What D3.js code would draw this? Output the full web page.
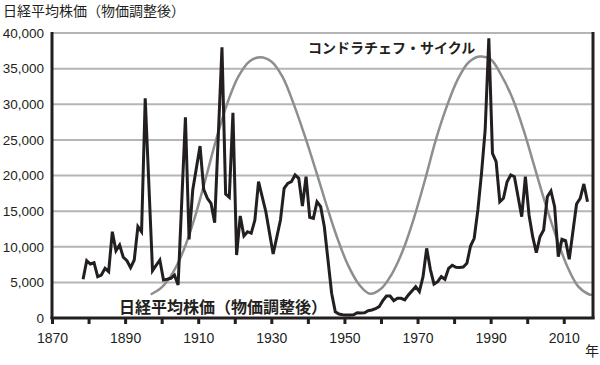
<!DOCTYPE html>
<html><head><meta charset="utf-8">
<script src="https://cdn.jsdelivr.net/npm/d3@7"></script>
<style>
html,body{margin:0;padding:0;background:#fff;}
text{font-family:"Liberation Sans",Arial,sans-serif;fill:#231f20;}
.jp{font-family:"Noto Sans CJK JP","Noto Sans",sans-serif;}
</style></head>
<body>
<svg id="chart" width="600" height="365"></svg>
<script>
// ---- data ----
const nikkeiYears = [1878,1879,1880,1881,1882,1883,1884,1885,1886,1887,1888,1889,1890,1891,1892,1893,1894,1895,1897,1899,
  1900,1901,1902,1903,1904,1906,1907,1908,1910,1911,1912,1913,1914,1916,1917,1918,1919,1920,1921,1922,1923,1924,1925,1926,1928,
  1930,1932,1933,1934,1935,1936,1937,1938,1939,1940,1941,1942,1943,1944,1946,1947,1948,1949,1950,1951,1952,1953,1954,1955,1956,
  1957,1958,1959,1960,1961,1962,1963,1964,1965,1966,1967,1969,1970,1971,1972,1973,1974,1975,1976,1977,1978,1979,1980,1981,1982,
  1983,1984,1985,1986,1987,1988,1989,1990,1991,1992,1993,1994,1995,1996,1997,1998,1999,2000,2001,2002,2003,2004,2005,2006,2007,
  2008,2009,2010,2011,2013,2014,2015,2016];
const nikkeiValues = [5430,8040,7580,7760,5800,6030,6970,6500,12110,9450,10250,8520,8040,7060,8140,12820,12110,30830,6640,8140,
  5330,5430,5570,6030,4630,28170,11040,17960,24140,18060,16800,16100,13380,37990,17400,16940,28810,8840,14320,11510,12110,11890,13750,19130,14920,
  8980,13750,18200,18900,19130,20070,19600,15720,19830,14130,13990,16320,15620,12810,3470,880,560,450,420,420,450,740,700,740,1020,
  1120,1300,1590,2430,3090,3090,2430,2760,2760,2530,3230,4390,3700,5800,9780,6830,4770,5090,5800,5430,6970,7400,7110,7100,7150,
  7680,10100,11190,15160,20310,26390,39260,23110,21940,16320,16800,19130,20070,19830,17020,14220,19830,14460,11410,9160,11410,12350,17020,17820,15620,
  8600,11040,10850,8240,16000,16800,18810,16320];

const kondratievYears = [1897,1900,1903,1906,1909,1912,1915,1918,1921,1924,1927,1930,1933,1936,1939,1942,1945,1948,1951,1954,1957,
  1960,1963,1966,1969,1972,1975,1978,1981,1984,1987,1990,1993,1996,1999,2002,2005,2008,2011,2014,2017,2018];
const kondratievValues = [3300,4300,6300,9500,14000,19500,25200,30200,33900,36000,36600,36000,33900,30200,25800,21000,16000,11300,7400,4700,3400,
  4100,6200,9500,14000,19300,25000,29700,33500,35900,36700,36300,34000,30800,26400,21200,16000,11300,7200,4400,3300,3250];

const yTicks = [0,5000,10000,15000,20000,25000,30000,35000,40000];
const xTickYears = [1870,1880,1890,1900,1910,1920,1930,1940,1950,1960,1970,1980,1990,2000,2010];
const xLabelYears = [1870,1890,1910,1930,1950,1970,1990,2010];

const titleText = "日経平均株価（物価調整後）";
const kondratievLabel = "コンドラチェフ・サイクル";
const nikkeiLabel = "日経平均株価（物価調整後）";
const unitText = "年";

// ---- chart ----
const svg = d3.select("#chart");
const x = d3.scaleLinear().domain([1870, 2018]).range([52, 593]);
const y = d3.scaleLinear().domain([0, 40000]).range([318, 33]);
const ink = "#231f20";
const mid = 0.5; // annual values plotted at mid-year

// gridlines
svg.append("g").selectAll("line").data(yTicks.filter(d => d > 0)).join("line")
  .attr("x1", x(1870)).attr("x2", x(2018))
  .attr("y1", d => y(d)).attr("y2", d => y(d))
  .attr("stroke", "#b5b5b5").attr("stroke-width", 2);

// y labels
svg.append("g").selectAll("text").data(yTicks).join("text")
  .attr("x", 44).attr("y", d => y(d)).attr("dy", "0.36em")
  .attr("text-anchor", "end").attr("font-size", 13.5)
  .text(d3.format(","));

// x ticks
const xAxis = d3.axisBottom(x).tickValues(xTickYears).tickSize(6)
  .tickFormat(d => xLabelYears.includes(d) ? String(d) : "");
const gx = svg.append("g").attr("transform", `translate(0,${y(0)})`).call(xAxis);
gx.select(".domain").remove();
gx.selectAll(".tick line").attr("stroke", ink).attr("stroke-width", 3);
gx.selectAll(".tick text").attr("font-size", 14).attr("dy", "1.15em")
  .attr("font-family", "Liberation Sans, Arial, sans-serif").attr("fill", ink);

// kondratiev curve
const kData = kondratievYears.map((yr, i) => ({yr, v: kondratievValues[i]}));
svg.append("path").datum(kData)
  .attr("fill", "none").attr("stroke", "#8e8e8e").attr("stroke-width", 2.5)
  .attr("d", d3.line().x(d => x(d.yr)).y(d => y(d.v)).curve(d3.curveCatmullRom));

// nikkei line
const nData = nikkeiYears.map((yr, i) => ({yr, v: nikkeiValues[i]}));
svg.append("path").datum(nData)
  .attr("fill", "none").attr("stroke", ink).attr("stroke-width", 3)
  .attr("d", d3.line().x(d => x(d.yr + mid)).y(d => y(d.v)));

// frame
svg.append("line").attr("x1", x(1870)).attr("x2", x(1870)).attr("y1", y(40000) - 1).attr("y2", y(0) + 1)
  .attr("stroke", ink).attr("stroke-width", 3);
svg.append("line").attr("x1", x(2018)).attr("x2", x(2018)).attr("y1", y(40000) - 1).attr("y2", y(0) + 1)
  .attr("stroke", ink).attr("stroke-width", 3);
svg.append("line").attr("x1", x(1870) - 1.5).attr("x2", x(2018) + 1.5).attr("y1", y(0)).attr("y2", y(0))
  .attr("stroke", ink).attr("stroke-width", 3);

// texts
svg.append("text").attr("class", "jp").attr("x", 3).attr("y", 11).attr("dy", "0.36em")
  .attr("font-size", 14).text(titleText);
svg.append("text").attr("class", "jp").attr("x", 308).attr("y", 48).attr("dy", "0.36em")
  .attr("font-size", 14).attr("font-weight", "bold").text(kondratievLabel);
svg.append("text").attr("class", "jp").attr("x", 119).attr("y", 307).attr("dy", "0.36em")
  .attr("font-size", 16).attr("font-weight", "bold").text(nikkeiLabel);
svg.append("text").attr("class", "jp").attr("x", 592).attr("y", 351).attr("dy", "0.36em")
  .attr("text-anchor", "middle").attr("font-size", 14).text(unitText);
</script>
</body></html>
